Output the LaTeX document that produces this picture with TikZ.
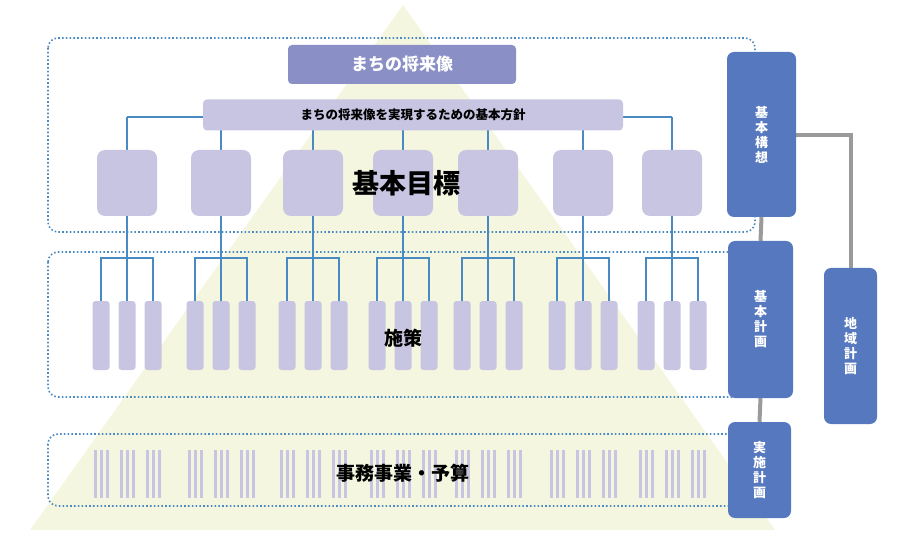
\documentclass[tikz,border=0pt]{standalone}
\usepackage{fontspec}
\setmainfont{Noto Sans CJK JP}
\usetikzlibrary{positioning}
\definecolor{pyr}{HTML}{F4F6DF}
\definecolor{lav}{HTML}{C7C5E1}
\definecolor{vis}{HTML}{8A8FC6}
\definecolor{plan}{HTML}{5678BE}
\definecolor{wire}{HTML}{4A8AC2}
\definecolor{gry}{HTML}{9A9A9A}
\pgfdeclarelayer{bg}\pgfdeclarelayer{wires}
\pgfsetlayers{bg,wires,main}
\tikzset{
  goal/.style={fill=lav, rounded corners=8pt, minimum width=60pt, minimum height=66pt},
  leaf/.style={fill=lav, rounded corners=3pt, minimum width=17pt, minimum height=69pt},
  bar/.style={fill=lav, minimum width=3pt, minimum height=48pt, inner sep=0pt},
  planbox/.style={fill=plan, rounded corners=7pt, text=white, font=\bfseries\fontsize{13}{15}\selectfont, align=center},
  area/.style={wire, line width=1.6pt, dash pattern=on 1.6pt off 2.2pt, rounded corners=10pt},
  link/.style={wire, line width=1.8pt},
  tie/.style={gry, line width=4pt}
}
\begin{document}
\begin{tikzpicture}[x=1pt, y=-1pt, inner sep=0pt]
	\useasboundingbox (0,0) rectangle (907,545);
	\begin{pgfonlayer}{bg}
	\fill[pyr] (403,5) -- (775,530) -- (30,530) -- cycle;
	\end{pgfonlayer}
	% vision and policy
	\node[fill=vis, rounded corners=4pt, minimum width=228pt, minimum height=39pt, text=white, font=\bfseries\fontsize{17}{19}\selectfont] (vision) at (402,64.5) {まちの将来像};
	\node[fill=lav, rounded corners=4pt, minimum width=420pt, minimum height=31pt, font=\bfseries\fontsize{12.5}{14}\selectfont] (policy) at (413,115) {まちの将来像を実現するための基本方針};
	% goals and measures
	\foreach \i/\x in {1/127,2/221,3/313,4/403,5/488,6/583,7/672} {
		\node[goal] (g\i) at (\x,183) {};
		\foreach \j/\d in {1/-26,2/0,3/26} {
			\node[leaf] (l\i-\j) at (\x+\d,335.5) {};
			\foreach \k in {-6,0,6}
				\node[bar] at (\x+\d+\k,474) {};
		}
		\coordinate (b\i) at (\x,258);
		\begin{pgfonlayer}{wires}
		\draw[link] (g\i.south) -- (l\i-2.north);
		\draw[link] (l\i-1.north) -- (l\i-1.north |- b\i) -- (l\i-3.north |- b\i) -- (l\i-3.north);
		\draw[link] (g\i.north) -- ++(0,-33);
		\end{pgfonlayer}
	}
	\coordinate (pb) at (0,117);
	\begin{pgfonlayer}{wires}
	\draw[link] (g1.north |- pb) -- (g7.north |- pb);
	\draw[area] (48,38) rectangle (755,232);
	\draw[area] (48,252) rectangle (762,397);
	\draw[area] (48,434) rectangle (762,506);
	\end{pgfonlayer}
	\node[font=\bfseries\fontsize{27}{30}\selectfont] (goaltxt) at (406,183) {基本目標};
	\node[font=\bfseries\fontsize{19}{21}\selectfont] (meastxt) at (403,338) {施策};
	\node[font=\bfseries\fontsize{19}{21}\selectfont] (worktxt) at (403,473) {事務事業・予算};
	% plans
	\node[planbox, minimum width=69pt, minimum height=165pt] (kousou) at (761.5,134.5) {基\\本\\構\\想};
	\node[planbox, minimum width=65pt, minimum height=157pt] (keikaku) at (760.5,319.5) {基\\本\\計\\画};
	\node[planbox, minimum width=63pt, minimum height=96pt] (jisshi) at (759.5,470) {実\\施\\計\\画};
	\node[planbox, minimum width=53pt, minimum height=156pt] (chiiki) at (850.5,346) {地\\域\\計\\画};
	\begin{pgfonlayer}{wires}
	\draw[tie] (kousou.south) -- (keikaku.north);
	\draw[tie] (keikaku.south) -- (jisshi.north);
	\draw[tie] (kousou.east |- 0,135) -| (chiiki.north);
	\end{pgfonlayer}
\end{tikzpicture}
\end{document}
